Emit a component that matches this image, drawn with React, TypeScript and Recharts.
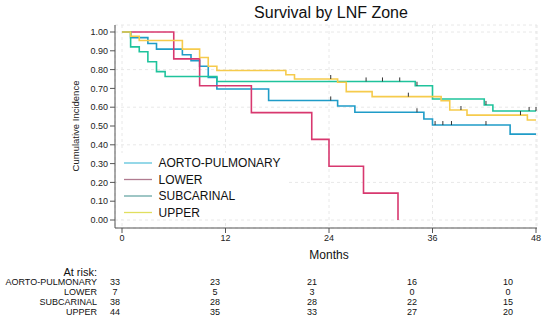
import { ComposedChart, Line, Scatter, XAxis, YAxis, CartesianGrid } from 'recharts';

// Kaplan-Meier style steps (months, cumulative incidence)
const apTimes = [0, 1, 3, 4, 7, 8, 9, 10, 11, 17, 25, 27, 35, 36, 45, 48];
const apValues = [1, 0.97, 0.939, 0.909, 0.879, 0.848, 0.818, 0.758, 0.697, 0.636, 0.606, 0.573, 0.537, 0.505, 0.457, 0.457];
const apCensor = [24.2, 34.2, 36.3, 37.2, 38.2, 42.2];

const lowerTimes = [0, 6, 9, 15, 22, 24, 28, 32];
const lowerValues = [1, 0.857, 0.714, 0.571, 0.429, 0.286, 0.143, 0];
const lowerCensor: number[] = [];

const subTimes = [0, 1, 2, 3, 4, 5, 11, 34, 36, 42, 43, 48];
const subValues = [1, 0.921, 0.895, 0.842, 0.789, 0.763, 0.737, 0.714, 0.644, 0.612, 0.58, 0.58];
const subCensor = [28.3, 30.2, 32.2, 34.2, 42.2, 47.2, 48];

const upperTimes = [0, 1, 2, 7, 9, 10, 11, 19, 20, 25, 26, 29, 37, 38, 40, 47, 48];
const upperValues = [1, 0.977, 0.955, 0.909, 0.864, 0.818, 0.795, 0.773, 0.75, 0.733, 0.683, 0.656, 0.634, 0.585, 0.558, 0.532, 0.532];
const upperCensor = [24.2, 33.2, 39.3, 46.2];

const monthTicks = [0, 12, 24, 36, 48];
const yTicks = [0, 0.1, 0.2, 0.3, 0.4, 0.5, 0.6, 0.7, 0.8, 0.9, 1];

const atRiskLabels = ['AORTO-PULMONARY', 'LOWER', 'SUBCARINAL', 'UPPER'];
const atRiskAP = [33, 23, 21, 16, 10];
const atRiskLower = [7, 5, 3, 0, 0];
const atRiskSub = [38, 28, 28, 22, 15];
const atRiskUpper = [44, 35, 33, 27, 20];

const toPoints = (t: number[], v: number[]) => t.map((x, i) => ({ x, y: v[i] }));

const stepValue = (t: number[], v: number[], at: number) => {
    let val = v[0];
    for (let i = 0; i < t.length; i++) {
        if (t[i] <= at) val = v[i];
    }
    return val;
};

const series = [
    { name: 'AORTO-PULMONARY', color: '#1f9cc8', legend: '#5cc3dc', times: apTimes, values: apValues, censor: apCensor },
    { name: 'LOWER', color: '#d8386f', legend: '#b07b90', times: lowerTimes, values: lowerValues, censor: lowerCensor },
    { name: 'SUBCARINAL', color: '#1fc39c', legend: '#6aa8a6', times: subTimes, values: subValues, censor: subCensor },
    { name: 'UPPER', color: '#f6cb4c', legend: '#e0df5e', times: upperTimes, values: upperValues, censor: upperCensor },
];

const atRiskRows = [atRiskAP, atRiskLower, atRiskSub, atRiskUpper];
const atRiskX = [115, 215, 312, 412, 508];

const font = '"Liberation Sans", Arial, Helvetica, sans-serif';
const axisColor = '#555';

const CensorMark = (props: any) => {
    const { cx, cy } = props;
    if (cx == null || cy == null) return null;
    return <line x1={cx} x2={cx} y1={cy - 4} y2={cy} stroke="#333" strokeWidth={1} />;
};

export default function App() {
    return (
        <div style={{ position: 'absolute', left: 0, top: 0, width: 550, height: 323, background: '#fff', fontFamily: font }}>
            <ComposedChart
                width={550}
                height={323}
                margin={{ top: 25, right: 13, bottom: 55, left: 0 }}
            >
                <CartesianGrid stroke="#e8e8e8" strokeDasharray="3 3" />
                <XAxis
                    dataKey="x"
                    type="number"
                    domain={[0, 48]}
                    ticks={monthTicks}
                    padding={{ left: 7, right: 1 }}
                    height={40}
                    stroke={axisColor}
                    tick={{ fill: '#222', fontSize: 9, fontFamily: font }}
                    tickSize={5}
                    allowDuplicatedCategory={false}
                />
                <YAxis
                    type="number"
                    domain={[0, 1]}
                    ticks={yTicks}
                    width={115}
                    padding={{ top: 7, bottom: 8 }}
                    stroke={axisColor}
                    tick={{ fill: '#222', fontSize: 9, fontFamily: font }}
                    tickSize={5}
                    tickFormatter={(v: number) => v.toFixed(2)}
                />
                {series.map((s) => (
                    <Line
                        key={s.name}
                        data={toPoints(s.times, s.values)}
                        dataKey="y"
                        type="stepAfter"
                        stroke={s.color}
                        strokeWidth={1.6}
                        dot={false}
                        isAnimationActive={false}
                    />
                ))}
                {series.map((s) => (
                    <Scatter
                        key={s.name + '-c'}
                        data={s.censor.map((x) => ({ x, y: stepValue(s.times, s.values, x) }))}
                        dataKey="y"
                        shape={CensorMark}
                        isAnimationActive={false}
                    />
                ))}
            </ComposedChart>
            <svg width={550} height={323} style={{ position: 'absolute', left: 0, top: 0, pointerEvents: 'none' }} fontFamily={font}>
                <text x={331} y={18} fontSize={16} textAnchor="middle" fill="#111">Survival by LNF Zone</text>
                <text x={0} y={0} fontSize={9.5} textAnchor="middle" fill="#222" transform="translate(79,126) rotate(-90)">Cumulative Incidence</text>
                <text x={329} y={259} fontSize={12} textAnchor="middle" fill="#111">Months</text>
                <rect x={117} y={153} width={170} height={66} fill="#fff" />
                {series.map((s, i) => (
                    <g key={s.name}>
                        <line x1={124} x2={152} y1={163 + i * 16.5} y2={163 + i * 16.5} stroke={s.legend} strokeWidth={1.3} />
                        <text x={158.5} y={167.3 + i * 16.5} fontSize={12} fill="#111">{s.name}</text>
                    </g>
                ))}
                <text x={97} y={275.5} fontSize={11} textAnchor="end" fill="#111">At risk:</text>
                {atRiskLabels.map((label, r) => (
                    <g key={label}>
                        <text x={97} y={285 + r * 10} fontSize={9} textAnchor="end" fill="#111">{label}</text>
                        {atRiskRows[r].map((n, c) => (
                            <text key={c} x={atRiskX[c]} y={285 + r * 10} fontSize={9} textAnchor="middle" fill="#111">{n}</text>
                        ))}
                    </g>
                ))}
            </svg>
        </div>
    );
}
